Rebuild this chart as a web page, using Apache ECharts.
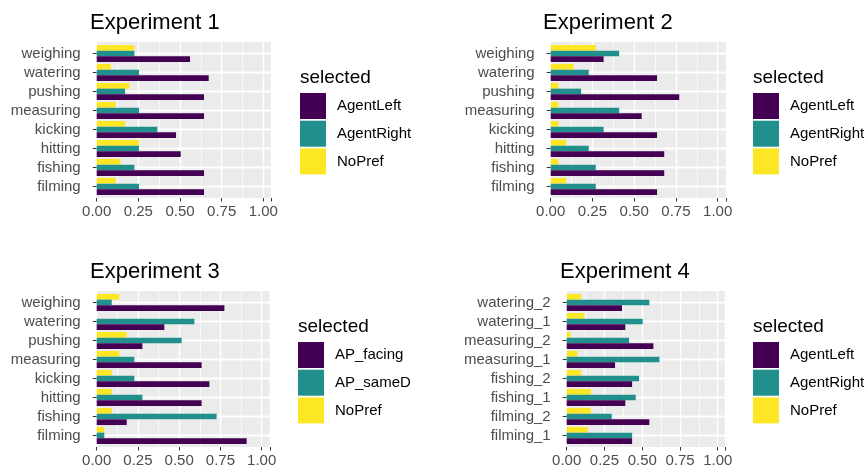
<!DOCTYPE html>
<html>
<head>
<meta charset="utf-8">
<script src="https://cdn.jsdelivr.net/npm/echarts@6/dist/echarts.min.js"></script>
<style>html,body{margin:0;padding:0;background:#fff}#c{width:868px;height:471px}</style>
</head>
<body>
<div id="c"></div>
<script>
// ---------- data ----------
const tickLabels = ['0.00', '0.25', '0.50', '0.75', '1.00'];
const tickValues = [0, 0.25, 0.5, 0.75, 1.0];
const titles = ['Experiment 1', 'Experiment 2', 'Experiment 3', 'Experiment 4'];
const legendTitle = 'selected';

// categories bottom -> top
const cats1 = ['filming', 'fishing', 'hitting', 'kicking', 'measuring', 'pushing', 'watering', 'weighing'];
const cats4 = ['filming_1', 'filming_2', 'fishing_1', 'fishing_2', 'measuring_1', 'measuring_2', 'watering_1', 'watering_2'];

const names124 = ['AgentLeft', 'AgentRight', 'NoPref'];
const names3 = ['AP_facing', 'AP_sameD', 'NoPref'];

const exp1Left    = [0.644, 0.644, 0.504, 0.476, 0.644, 0.644, 0.672, 0.560];
const exp1Right   = [0.254, 0.226, 0.254, 0.364, 0.254, 0.170, 0.254, 0.226];
const exp1NoPref  = [0.114, 0.142, 0.254, 0.170, 0.114, 0.196, 0.086, 0.226];

const exp2Left    = [0.637, 0.680, 0.680, 0.637, 0.545, 0.770, 0.637, 0.317];
const exp2Right   = [0.270, 0.270, 0.228, 0.317, 0.410, 0.182, 0.228, 0.410];
const exp2NoPref  = [0.092, 0.046, 0.092, 0.046, 0.046, 0.046, 0.138, 0.270];

const exp3Facing  = [0.909, 0.182, 0.636, 0.683, 0.636, 0.277, 0.410, 0.774];
const exp3SameD   = [0.046, 0.727, 0.277, 0.228, 0.228, 0.515, 0.592, 0.091];
const exp3NoPref  = [0.046, 0.091, 0.091, 0.091, 0.137, 0.182, 0.000, 0.137];

const exp4Left    = [0.433, 0.547, 0.388, 0.433, 0.320, 0.574, 0.388, 0.366];
const exp4Right   = [0.433, 0.298, 0.457, 0.479, 0.614, 0.413, 0.503, 0.547];
const exp4NoPref  = [0.139, 0.161, 0.161, 0.095, 0.071, 0.026, 0.117, 0.095];

// ---------- layout / style ----------
const COLORS = ['#440154', '#21908C', '#FDE725'];
const FONT = 'Liberation Sans, Arial, Helvetica, sans-serif';
const panels = [
  {cats: cats1, names: names124, vals: [exp1Left, exp1Right, exp1NoPref], left: 96.7, width: 175,   top: 44,  titleLeft: 90,  titleTop: 12,  legLeft: 300},
  {cats: cats1, names: names124, vals: [exp2Left, exp2Right, exp2NoPref], left: 550.7, width: 175.3, top: 44,  titleLeft: 543, titleTop: 12,  legLeft: 753},
  {cats: cats1, names: names3,   vals: [exp3Facing, exp3SameD, exp3NoPref], left: 96.7, width: 173.2, top: 293, titleLeft: 90,  titleTop: 261, legLeft: 298},
  {cats: cats4, names: names124, vals: [exp4Left, exp4Right, exp4NoPref], left: 566.7, width: 158.6, top: 293, titleLeft: 560, titleTop: 261, legLeft: 753}
];
const BAND_H = 152, PAD = 2;

const grid = [], xAxis = [], yAxis = [], series = [], title = [], legend = [];
panels.forEach((p, i) => {
  const bg = grid.length;
  grid.push({left: p.left, width: p.width, top: p.top - PAD, height: BAND_H + 2 * PAD,
             show: true, backgroundColor: '#EBEBEB', borderWidth: 0});
  const fg = grid.length;
  grid.push({left: p.left, width: p.width, top: p.top, height: BAND_H, show: false});

  xAxis.push({type: 'value', gridIndex: bg, position: 'bottom', min: 0, max: 1.05, interval: 0.25,
    axisLine: {show: false},
    axisTick: {show: true, length: 3.5, lineStyle: {color: '#333333', width: 1}},
    axisLabel: {show: true, margin: 6, color: '#4D4D4D', fontSize: 15, fontFamily: FONT,
      formatter: v => { const k = tickValues.findIndex(t => Math.abs(t - v) < 1e-6); return k >= 0 ? tickLabels[k] : ''; }},
    splitLine: {show: true, lineStyle: {color: '#FFFFFF', width: 1.4}}
  });
  xAxis.push({type: 'value', gridIndex: bg, position: 'top', min: 0, max: 1.05, interval: 0.125,
    axisLine: {show: false}, axisTick: {show: false}, axisLabel: {show: false},
    splitLine: {show: true, lineStyle: {color: '#FFFFFF', width: 0.7}}
  });
  yAxis.push({type: 'value', gridIndex: bg, min: 0, max: 1, show: false, splitLine: {show: false}});

  const xi = xAxis.length;
  xAxis.push({type: 'value', gridIndex: fg, min: 0, max: 1.05, show: false, splitLine: {show: false}});
  const yi = yAxis.length;
  yAxis.push({type: 'category', gridIndex: fg, data: p.cats, offset: 6, position: 'left',
    axisLine: {show: false},
    axisTick: {show: true, alignWithLabel: true, interval: 0, length: 4, lineStyle: {color: '#333333', width: 1}},
    axisLabel: {color: '#4D4D4D', fontSize: 15, fontFamily: FONT, margin: 10, interval: 0},
    splitLine: {show: true, alignWithLabel: true, interval: 0, lineStyle: {color: '#FFFFFF', width: 1.4}}
  });
  // mirrored helper axis, only to supply the centre grid line that the first axis clamps away
  yAxis.push({type: 'category', gridIndex: fg, data: p.cats, inverse: true, position: 'right',
    axisLine: {show: false}, axisTick: {show: false}, axisLabel: {show: false},
    splitLine: {show: true, alignWithLabel: true, interval: 0, lineStyle: {color: '#FFFFFF', width: 1.4}}
  });

  // ECharts places the first series of a horizontal group at the top, so add them in reverse
  for (let k = p.names.length - 1; k >= 0; k--) {
    series.push({type: 'bar', name: p.names[k], xAxisIndex: xi, yAxisIndex: yi, data: p.vals[k],
      barCategoryGap: '10%', barGap: '0%', itemStyle: {color: COLORS[k]}, silent: true, animation: false});
  }

  title.push({text: titles[i], left: p.titleLeft, top: p.titleTop, padding: 0,
    textStyle: {fontSize: 22, fontWeight: 'normal', color: '#000000', fontFamily: FONT}});
  title.push({text: legendTitle, left: p.legLeft, top: p.titleTop + 56, padding: 0,
    textStyle: {fontSize: 19, fontWeight: 'normal', color: '#000000', fontFamily: FONT}});
  legend.push({orient: 'vertical', left: p.legLeft, top: p.titleTop + 81, padding: 0,
    itemWidth: 26, itemHeight: 26, itemGap: 1.7, icon: 'rect', selectedMode: false,
    data: p.names, textStyle: {fontSize: 15, color: '#000000', fontFamily: FONT, padding: [0, 0, 0, 6]}});
});

const chart = echarts.init(document.getElementById('c'), null, {renderer: 'canvas'});
chart.setOption({animation: false, backgroundColor: '#FFFFFF', grid, xAxis, yAxis, series, title, legend});
</script>
</body>
</html>
